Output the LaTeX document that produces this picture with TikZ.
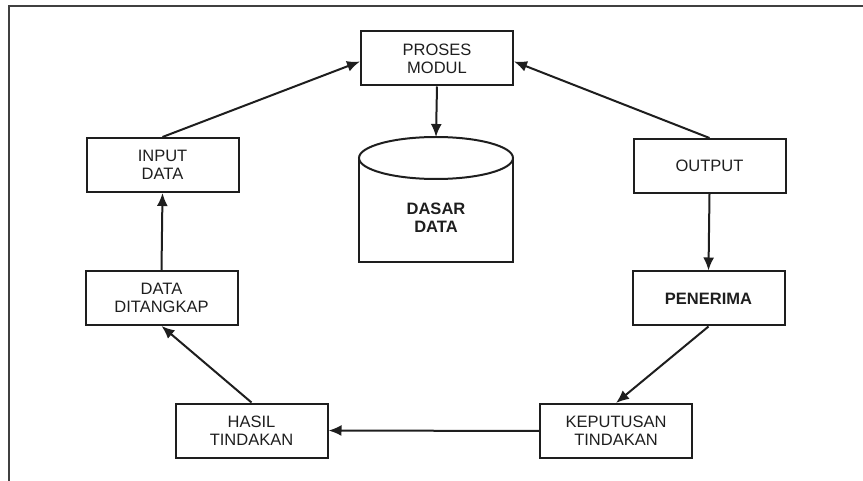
\documentclass[tikz,border=0pt]{standalone}
\usepackage{fontspec}
\setmainfont{Liberation Sans}
\usetikzlibrary{arrows.meta, calc}
\definecolor{inkgray}{RGB}{30,30,30}

\begin{document}
\begin{tikzpicture}[x=1pt, y=-1pt,
    box/.style={draw=inkgray, line width=2pt, rectangle, minimum width=152pt, minimum height=54pt,
        align=center, text=inkgray, font=\fontsize{16.5}{18}\selectfont},
    flow/.style={-{Latex[length=13pt, width=11pt]}, line width=2pt, draw=inkgray}]
    \useasboundingbox (0,0) rectangle (863,481);

    % frame
    \draw[line width=1.6pt, draw=black!75] (9,481) -- (9,6) -- (863,6);

    % Proses modul
    \node[box] (proses) at (437,58.5) {PROSES\\MODUL};

    % Dasar data (cylinder)
    \draw[line width=2pt, draw=inkgray] (359,158) -- (359,262) -- (513,262) -- (513,158);
    \draw[line width=2pt, draw=inkgray, fill=white] (436,158) ellipse (77 and 21);
    \coordinate (dbtop) at (436,137);
    \node[align=center, text=inkgray, font=\fontsize{16.5}{18}\selectfont\bfseries] (dasar) at (436,218) {DASAR\\DATA};

    % Left column
    \node[box] (input) at (162.5,165) {INPUT\\DATA};
    \node[box] (ditangkap) at (161.5,298) {DATA\\DITANGKAP};

    % Right column
    \node[box] (output) at (709.5,166) {OUTPUT};
    \node[box, font=\fontsize{16.5}{18}\selectfont\bfseries] (penerima) at (708.5,298.5) {PENERIMA};

    % Bottom row
    \node[box] (hasil) at (251.5,430.5) {HASIL\\TINDAKAN};
    \node[box] (keputusan) at (616,431) {KEPUTUSAN\\TINDAKAN};

    % Arrows round the cycle
    \draw[flow] (input.north) -- ($(proses.west)+(0,3)$);
    \draw[flow] (output.north) -- ($(proses.east)+(0,3)$);
    \draw[flow] (proses.south) -- (dbtop);
    \draw[flow] (output.south) -- (penerima.north);
    \draw[flow] (penerima.south) -- (keputusan.north);
    \draw[flow] (keputusan.west) -- (hasil.east);
    \draw[flow] (hasil.north) -- (ditangkap.south);
    \draw[flow] (ditangkap.north) -- (input.south);
\end{tikzpicture}
\end{document}
